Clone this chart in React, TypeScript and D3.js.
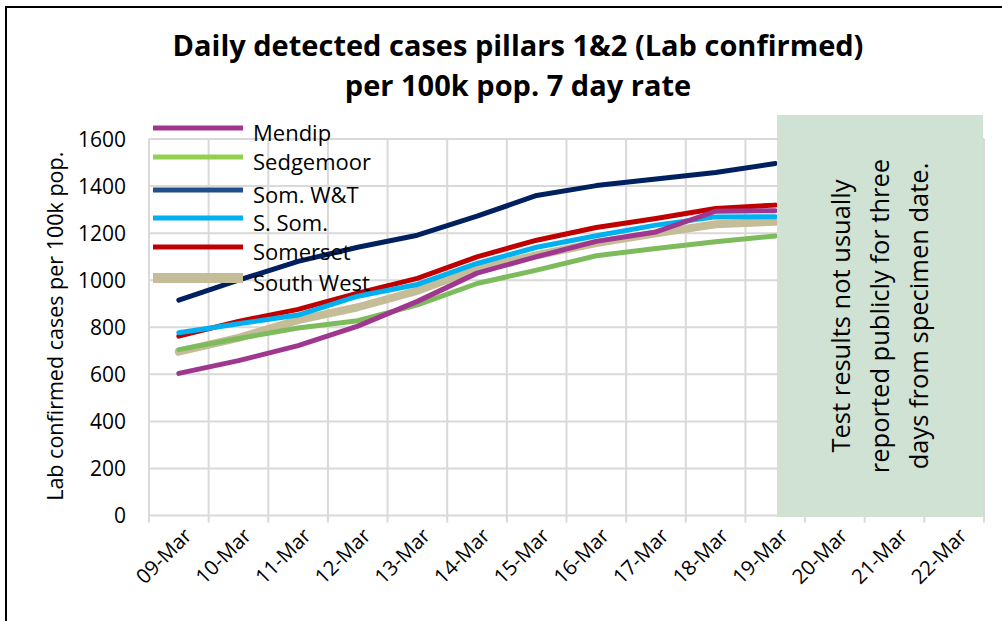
import React from 'react';
import * as d3 from 'd3';

const categories = ['09-Mar','10-Mar','11-Mar','12-Mar','13-Mar','14-Mar','15-Mar','16-Mar','17-Mar','18-Mar','19-Mar','20-Mar','21-Mar','22-Mar'];
const yTicks = [0, 200, 400, 600, 800, 1000, 1200, 1400, 1600];

const seriesNames = ['Mendip', 'Sedgemoor', 'Som. W&T', 'S. Som.', 'Somerset', 'South West'];
const mendip = [604, 658, 722, 805, 910, 1030, 1100, 1165, 1205, 1293, 1295];
const sedgemoor = [705, 752, 797, 828, 895, 986, 1043, 1104, 1135, 1163, 1188];
const somWT = [915, 1000, 1080, 1140, 1191, 1272, 1360, 1402, 1430, 1458, 1496];
const sSom = [777, 815, 852, 932, 982, 1071, 1140, 1189, 1234, 1269, 1270];
const somerset = [762, 825, 876, 945, 1008, 1099, 1170, 1224, 1262, 1305, 1319];
const southWest = [696, 755, 830, 885, 955, 1050, 1106, 1158, 1199, 1238, 1248];
const seriesValues = [mendip, sedgemoor, somWT, sSom, somerset, southWest];

const lineColors = ['#A0378F', '#7DBB5D', '#002060', '#00B0F0', '#C00000', '#C4BD97'];
const legendColors = ['#A0378F', '#92D050', '#1F4E89', '#00B0F0', '#C00000', '#C4BD97'];
const lineWidths = [5, 5, 5, 5, 5, 8];
const drawOrder = [5, 4, 3, 2, 1, 0];

const titleLines = ['Daily detected cases pillars 1&2 (Lab confirmed)', 'per 100k pop. 7 day rate'];
const yAxisTitle = 'Lab confirmed cases per 100k pop.';
const noteLines = ['Test results not usually', 'reported publicly for three', 'days from specimen date.'];
const noteStart = '20-Mar';

const FONT = '"Open Sans", "Noto Sans", sans-serif';

export default function App() {
  const W = 1002, H = 621;
  const left = 149, right = 984, top = 139, bottom = 515.5;
  const x = d3.scaleBand<string>().domain(categories).range([left, right]).padding(0);
  const y = d3.scaleLinear().domain([0, 1600]).range([bottom, top]);
  const cx = (c: string) => (x(c) as number) + x.bandwidth() / 2;

  const line = d3.line<number>()
    .x((_, i) => cx(categories[i]))
    .y((d) => y(d))
    .curve(d3.curveLinear);

  const boundaries = d3.range(categories.length + 1).map((i) => left + i * x.bandwidth());
  const boxLeft = (x(noteStart) as number) - 28;
  const boxRight = right - 1;
  const boxTop = 115, boxBottom = 517;
  const boxCx = (boxLeft + boxRight) / 2;
  const boxCy = (boxTop + boxBottom) / 2;

  const legendYs = [128, 157, 190, 218, 247, 278];

  return (
    <svg width={W} height={H} style={{ position: 'absolute', left: 0, top: 0, background: '#fff' }} fontFamily={FONT}>
      <rect x={0} y={0} width={W} height={H} fill="#fff" />
      <rect x={6} y={7} width={W + 20} height={H + 20} fill="none" stroke="#000" strokeWidth={2} />

      {titleLines.map((t, i) => (
        <text key={i} x={518} y={56 + i * 40} textAnchor="middle" fontSize={29} fontWeight={700} fill="#000">{t}</text>
      ))}

      {yTicks.map((v) => (
        <line key={'h' + v} x1={left} x2={right} y1={y(v)} y2={y(v)} stroke="#D9D9D9" strokeWidth={2} />
      ))}
      {boundaries.map((bx, i) => (
        <line key={'v' + i} x1={bx} x2={bx} y1={top} y2={bottom + 7} stroke="#D9D9D9" strokeWidth={2} />
      ))}

      {yTicks.map((v) => (
        <text key={'yl' + v} x={126} y={y(v)} dy="0.36em" textAnchor="end" fontSize={21} fill="#000">{v}</text>
      ))}

      <text transform={`translate(55,${(top + bottom) / 2 - 1}) rotate(-90)`} textAnchor="middle" dy="0.35em" fontSize={21.5} fill="#000">{yAxisTitle}</text>

      {categories.map((c) => (
        <text key={'xl' + c} transform={`translate(${cx(c) + 9},${532}) rotate(-45)`} textAnchor="end" dy="0.35em" fontSize={20.5} fill="#000">{c}</text>
      ))}

      {drawOrder.map((si) => (
        <path key={'s' + si} d={line(seriesValues[si]) || ''} fill="none" stroke={lineColors[si]} strokeWidth={lineWidths[si]} strokeLinejoin="round" strokeLinecap="round" />
      ))}

      <rect x={boxLeft} y={boxTop} width={boxRight - boxLeft} height={boxBottom - boxTop} fill="#CFE2D3" />
      {noteLines.map((t, i) => (
        <text key={'n' + i} transform={`translate(${boxCx + (i - 1) * 39},${boxCy}) rotate(-90)`} textAnchor="middle" dy="0.35em" fontSize={25.5} fill="#000">{t}</text>
      ))}

      {seriesNames.map((n, i) => (
        <g key={'lg' + i}>
          <line x1={153} x2={243} y1={legendYs[i]} y2={legendYs[i]} stroke={legendColors[i]} strokeWidth={i === 5 ? 10 : 5} />
          <text x={253} y={legendYs[i] + 5} dy="0.35em" fontSize={22} fill="#000">{n}</text>
        </g>
      ))}
    </svg>
  );
}
